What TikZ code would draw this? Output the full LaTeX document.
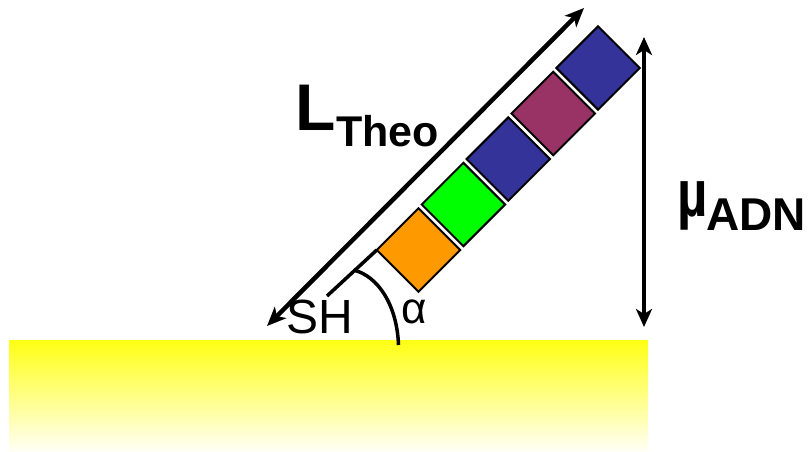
\documentclass[tikz,border=0pt]{standalone}
\usepackage{fontspec}
\setmainfont{Liberation Sans}
\usetikzlibrary{arrows.meta}
\definecolor{cOrange}{RGB}{255,153,0}
\definecolor{cGreen}{RGB}{0,255,0}
\definecolor{cBlue}{RGB}{51,51,153}
\definecolor{cPurple}{RGB}{153,51,102}
\definecolor{cYellow}{RGB}{255,255,20}
\tikzset{
  sq/.style={draw=black, line width=2pt, rotate=45, minimum size=59pt, inner sep=0pt, outer sep=0pt},
  lbl/.style={anchor=base west, inner sep=0pt, outer sep=0pt, text=black},
  dblarrow/.style={line width=4.5pt, {Stealth[length=19pt,width=16pt,inset=5pt]}-{Stealth[length=19pt,width=16pt,inset=5pt]}},
  thick3/.style={line width=3.5pt}
}
\begin{document}
\begin{tikzpicture}[x=1pt,y=1pt]
\useasboundingbox (0,0) rectangle (809,-452);
% surface
\shade[top color=cYellow, bottom color=yellow!3] (9,-340) rectangle (648,-452);
% squares
\node[sq, fill=cOrange] (sq1) at (418.5,-250) {};
\node[sq, fill=cGreen]  (sq2) at (463.4,-204.5) {};
\node[sq, fill=cBlue]   (sq3) at (508.3,-159) {};
\node[sq, fill=cPurple] (sq4) at (553.2,-113.5) {};
\node[sq, fill=cBlue]   (sq5) at (598.1,-68) {};
% SH linker
\coordinate (shend) at (327,-296);
\draw[thick3] (shend) -- (sq1.north west);
% angle arc
\coordinate (arcA) at (353.5,-270);
\coordinate (arcB) at (398.5,-345);
\draw[thick3] (arcA) .. controls (378,-276) and (397,-305) .. (arcB);
% length arrow
\coordinate (la1) at (267,-326);
\coordinate (la2) at (584,-8);
\draw[dblarrow] (la1) -- (la2);
% height arrow
\coordinate (ha1) at (644,-37);
\coordinate (ha2) at (644,-327);
\draw[line width=3.8pt, {Stealth[length=18pt,width=16pt,inset=5pt]}-{Stealth[length=18pt,width=16pt,inset=5pt]}] (ha1) -- (ha2);
% labels
\node[lbl, font=\bfseries\fontsize{66}{66}\selectfont] (lL) at (295,-130) {L};
\node[lbl, font=\bfseries\fontsize{43}{43}\selectfont] (lTheo) at (336,-146) {Theo};
\node[lbl, font=\bfseries] (lmu) at (677,-216) {\fontsize{66}{66}\selectfont\scalebox{0.8}[1]{µ}\kern-1pt\raisebox{-14pt}{\fontsize{46}{46}\selectfont ADN}};
\node[lbl, font=\fontsize{48}{48}\selectfont] (lSH) at (286,-333) {SH};
\node[lbl, font=\fontsize{44}{44}\selectfont] (lalpha) at (401,-323) {α};
\end{tikzpicture}
\end{document}
